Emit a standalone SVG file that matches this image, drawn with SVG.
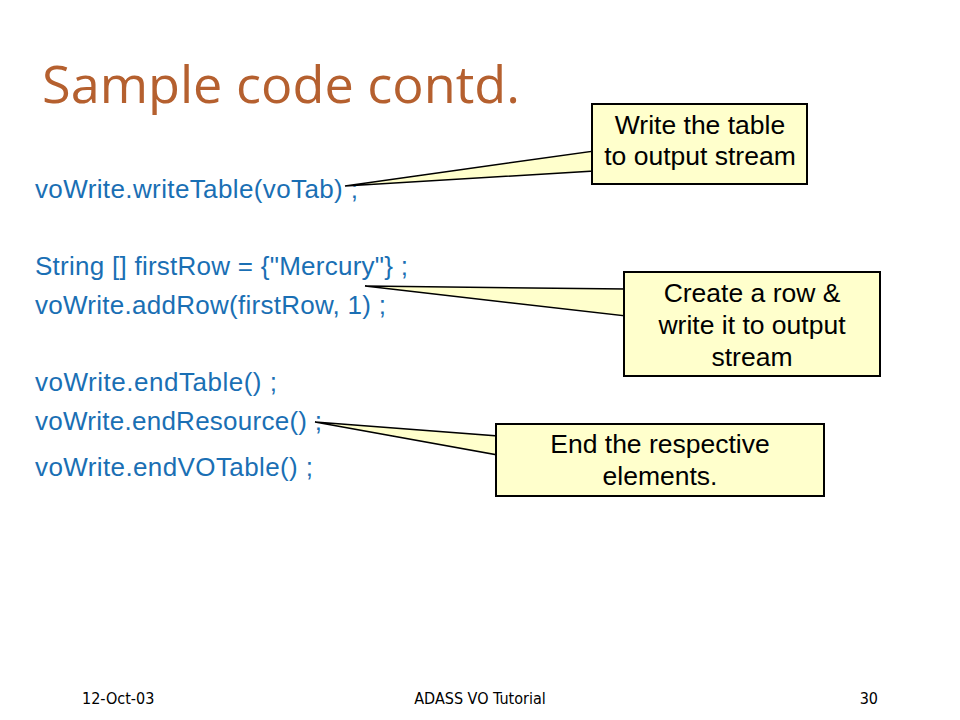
<svg xmlns="http://www.w3.org/2000/svg" width="960" height="720" viewBox="0 0 960 720">
<style>
.code{font-family:"Liberation Sans",Arial,sans-serif;font-size:26px;fill:#1a6fb4}
.note{font-family:"Liberation Sans",Arial,sans-serif;font-size:26.5px;fill:#000;text-anchor:middle}
.box{fill:#ffffcc;stroke:#000;stroke-width:2}
.ptr{fill:#ffffcc;stroke:#000;stroke-width:1.5;stroke-linejoin:miter}
.foot{font-family:"DejaVu Sans Condensed","DejaVu Sans",Tahoma,sans-serif;font-size:16px;fill:#000}
</style>
<rect width="960" height="720" fill="#fff"/>
<text x="42" y="103" font-family="'Comic Sans MS','Open Sans',sans-serif" font-size="52" fill="#b5602f" textLength="478" lengthAdjust="spacingAndGlyphs">Sample code contd.</text>
<g id="code">
<text class="code" x="35" y="198" textLength="323">voWrite.writeTable(voTab) ;</text>
<text class="code" x="35" y="275" textLength="373">String [] firstRow = {"Mercury"} ;</text>
<text class="code" x="35" y="314" textLength="351">voWrite.addRow(firstRow, 1) ;</text>
<text class="code" x="35" y="391" textLength="242">voWrite.endTable() ;</text>
<text class="code" x="35" y="430" textLength="287">voWrite.endResource() ;</text>
<text class="code" x="35" y="476" textLength="278">voWrite.endVOTable() ;</text>
</g>
<g id="connectors">
<polygon class="ptr" points="345,186 594,151 594,171"/>
<polygon class="ptr" points="365,286 626,289 626,316"/>
<polygon class="ptr" points="315,422 498,436 498,455"/>
</g>
<g id="note1">
<rect class="box" x="592" y="104" width="215" height="80"/>
<text class="note" x="700" y="134">Write the table</text>
<text class="note" x="700" y="165">to output stream</text>
</g>
<g id="note2">
<rect class="box" x="624" y="272" width="256" height="104"/>
<text class="note" x="752" y="302">Create a row &amp;</text>
<text class="note" x="752" y="334">write it to output</text>
<text class="note" x="752" y="366">stream</text>
</g>
<g id="note3">
<rect class="box" x="496" y="424" width="328" height="72"/>
<text class="note" x="660" y="453">End the respective</text>
<text class="note" x="660" y="485">elements.</text>
</g>
<g id="footer">
<text class="foot" x="82" y="704">12-Oct-03</text>
<text class="foot" x="480" y="704" text-anchor="middle">ADASS VO Tutorial</text>
<text class="foot" x="878" y="704" text-anchor="end">30</text>
</g>
</svg>
